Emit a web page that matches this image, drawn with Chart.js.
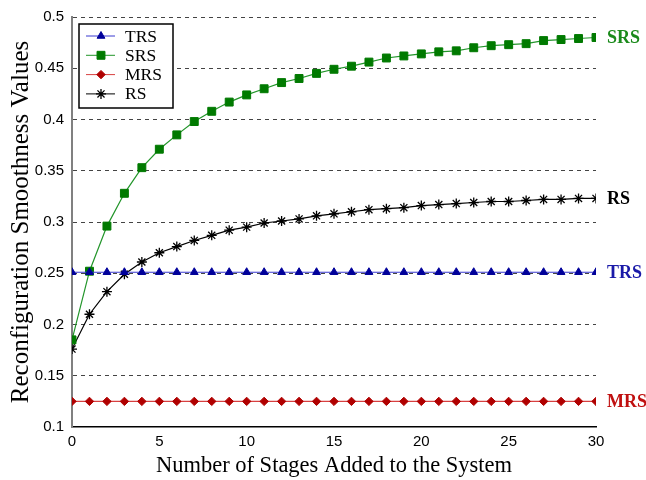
<!DOCTYPE html>
<html>
<head>
<meta charset="utf-8">
<script src="https://cdn.jsdelivr.net/npm/chart.js@4/dist/chart.umd.min.js"></script>
<style>
  html, body { margin: 0; padding: 0; background: #fff; }
  #wrap { width: 646px; height: 480px; position: relative; }
</style>
</head>
<body>
<div id="wrap"><canvas id="chart" width="646" height="480"></canvas></div>
<script>
// stages added (x axis)
const stages = [0, 1, 2, 3, 4, 5, 6, 7, 8, 9, 10, 11, 12, 13, 14, 15,
  16, 17, 18, 19, 20, 21, 22, 23, 24, 25, 26, 27, 28, 29, 30];

const trsValues = [0.251, 0.251, 0.251, 0.251, 0.251, 0.251, 0.251, 0.251, 0.251, 0.251, 0.251,
  0.251, 0.251, 0.251, 0.251, 0.251, 0.251, 0.251, 0.251, 0.251, 0.251,
  0.251, 0.251, 0.251, 0.251, 0.251, 0.251, 0.251, 0.251, 0.251, 0.251];

const srsValues = [0.185, 0.252, 0.296, 0.328, 0.353, 0.371, 0.385, 0.398, 0.408, 0.417, 0.424,
  0.430, 0.436, 0.440, 0.445, 0.449, 0.452, 0.456, 0.460, 0.462, 0.464,
  0.466, 0.467, 0.470, 0.472, 0.473, 0.474, 0.477, 0.478, 0.479, 0.480];

const mrsValues = [0.125, 0.125, 0.125, 0.125, 0.125, 0.125, 0.125, 0.125, 0.125, 0.125, 0.125,
  0.125, 0.125, 0.125, 0.125, 0.125, 0.125, 0.125, 0.125, 0.125, 0.125,
  0.125, 0.125, 0.125, 0.125, 0.125, 0.125, 0.125, 0.125, 0.125, 0.125];

const rsValues = [0.176, 0.210, 0.232, 0.249, 0.261, 0.270, 0.276, 0.282, 0.287, 0.292, 0.295,
  0.299, 0.301, 0.303, 0.306, 0.308, 0.310, 0.312, 0.313, 0.314, 0.316,
  0.317, 0.318, 0.319, 0.320, 0.320, 0.321, 0.322, 0.322, 0.323, 0.323];

const yTicks = [0.1, 0.15, 0.2, 0.25, 0.3, 0.35, 0.4, 0.45, 0.5];
const xTicks = [0, 5, 10, 15, 20, 25, 30];

const toPoints = vals => vals.map((v, i) => ({ x: stages[i], y: v }));

const serif = '"Liberation Serif", "Times New Roman", serif';
const sans = '"Liberation Sans", Arial, sans-serif';

const seriesStyle = [
  { label: 'TRS', data: trsValues, line: '#3b3bd0', mark: '#00009a', shape: 'triangle', r: 4.5, tag: '#1a1aa8' },
  { label: 'SRS', data: srsValues, line: '#22952a', mark: '#007a00', shape: 'rect', r: 5.6, tag: '#1b8a1b' },
  { label: 'MRS', data: mrsValues, line: '#d84040', mark: '#b00000', shape: 'rectRot', r: 4.2, tag: '#c01010' },
  { label: 'RS', data: rsValues, line: '#000000', mark: '#000000', shape: 'star', r: 5, tag: '#000000' }
];

// legend box drawn inside the plot, top-left
const boxLegend = {
  id: 'boxLegend',
  afterDraw(chart) {
    const ctx = chart.ctx;
    const area = chart.chartArea;
    const x0 = area.left + 7, y0 = area.top + 7;
    const w = 94, h = 84;
    ctx.save();
    ctx.fillStyle = '#fff';
    ctx.fillRect(x0, y0, w, h);
    ctx.strokeStyle = '#000';
    ctx.lineWidth = 1.5;
    ctx.strokeRect(x0, y0, w, h);
    chart.data.datasets.forEach((ds, i) => {
      const y = y0 + 12 + i * 19.3;
      ctx.strokeStyle = ds.borderColor;
      ctx.lineWidth = 1;
      ctx.beginPath();
      ctx.moveTo(x0 + 7, y);
      ctx.lineTo(x0 + 36, y);
      ctx.stroke();
      ctx.fillStyle = ds.pointBackgroundColor;
      ctx.strokeStyle = ds.pointBorderColor;
      ctx.lineWidth = ds.pointBorderWidth;
      Chart.helpers.drawPoint(ctx, { pointStyle: ds.pointStyle, radius: ds.pointRadius, borderWidth: ds.pointBorderWidth }, x0 + 22, y);
      ctx.fillStyle = '#000';
      ctx.font = '17.5px ' + serif;
      ctx.textBaseline = 'middle';
      ctx.textAlign = 'left';
      ctx.fillText(ds.label, x0 + 46, y + 1);
    });
    ctx.restore();
  }
};

// series name next to the last point of each line
const endTags = {
  id: 'endTags',
  afterDatasetsDraw(chart) {
    const ctx = chart.ctx;
    ctx.save();
    ctx.font = 'bold 18px ' + serif;
    ctx.textBaseline = 'middle';
    ctx.textAlign = 'left';
    chart.data.datasets.forEach((ds, i) => {
      const pts = chart.getDatasetMeta(i).data;
      const last = pts[pts.length - 1];
      ctx.fillStyle = seriesStyle[i].tag;
      ctx.fillText(ds.label, last.x + 11, last.y + 1);
    });
    ctx.restore();
  }
};

new Chart(document.getElementById('chart'), {
  type: 'line',
  data: {
    datasets: seriesStyle.map(s => ({
      label: s.label,
      data: toPoints(s.data),
      borderColor: s.line,
      borderWidth: 1.2,
      pointStyle: s.shape,
      pointRadius: s.r,
      pointBackgroundColor: s.mark,
      pointBorderColor: s.mark,
      pointBorderWidth: s.shape === 'star' ? 1.3 : 1,
      tension: 0,
      fill: false
    }))
  },
  options: {
    responsive: false,
    animation: false,
    events: [],
    layout: { padding: { top: 15, right: 50, left: 0, bottom: 0 } },
    plugins: { legend: { display: false }, tooltip: { enabled: false } },
    scales: {
      x: {
        type: 'linear',
        min: 0,
        max: 30,
        afterBuildTicks: scale => { scale.ticks = xTicks.map(v => ({ value: v })); },
        afterFit: scale => { scale.height = 53; },
        grid: { display: false, drawTicks: false },
        border: { color: '#000', width: 1.5 },
        ticks: { color: '#000', font: { family: sans, size: 15 }, padding: 6, maxRotation: 0 },
        title: {
          display: true,
          text: 'Number of Stages Added to the System',
          color: '#000',
          font: { family: serif, size: 22.5 },
          padding: { top: 1, bottom: 0 }
        }
      },
      y: {
        min: 0.1,
        max: 0.5,
        afterBuildTicks: scale => { scale.ticks = yTicks.map(v => ({ value: v })); },
        afterFit: scale => { scale.width = 72; },
        grid: {
          drawTicks: false,
          color: ctx => (ctx.tick && ctx.tick.value > 0.1) ? '#444' : 'rgba(0,0,0,0)',
          lineWidth: 1
        },
        border: { color: '#808080', width: 2, dash: [4, 4] },
        ticks: {
          color: '#000',
          font: { family: sans, size: 15 },
          padding: 8,
          callback: v => String(parseFloat(v.toFixed(2)))
        },
        title: {
          display: true,
          text: 'Reconfiguration Smoothness Values',
          color: '#000',
          font: { family: serif, size: 25 },
          padding: { top: 6, bottom: 0 }
        }
      }
    }
  },
  plugins: [endTags, boxLegend]
});
</script>
</body>
</html>
